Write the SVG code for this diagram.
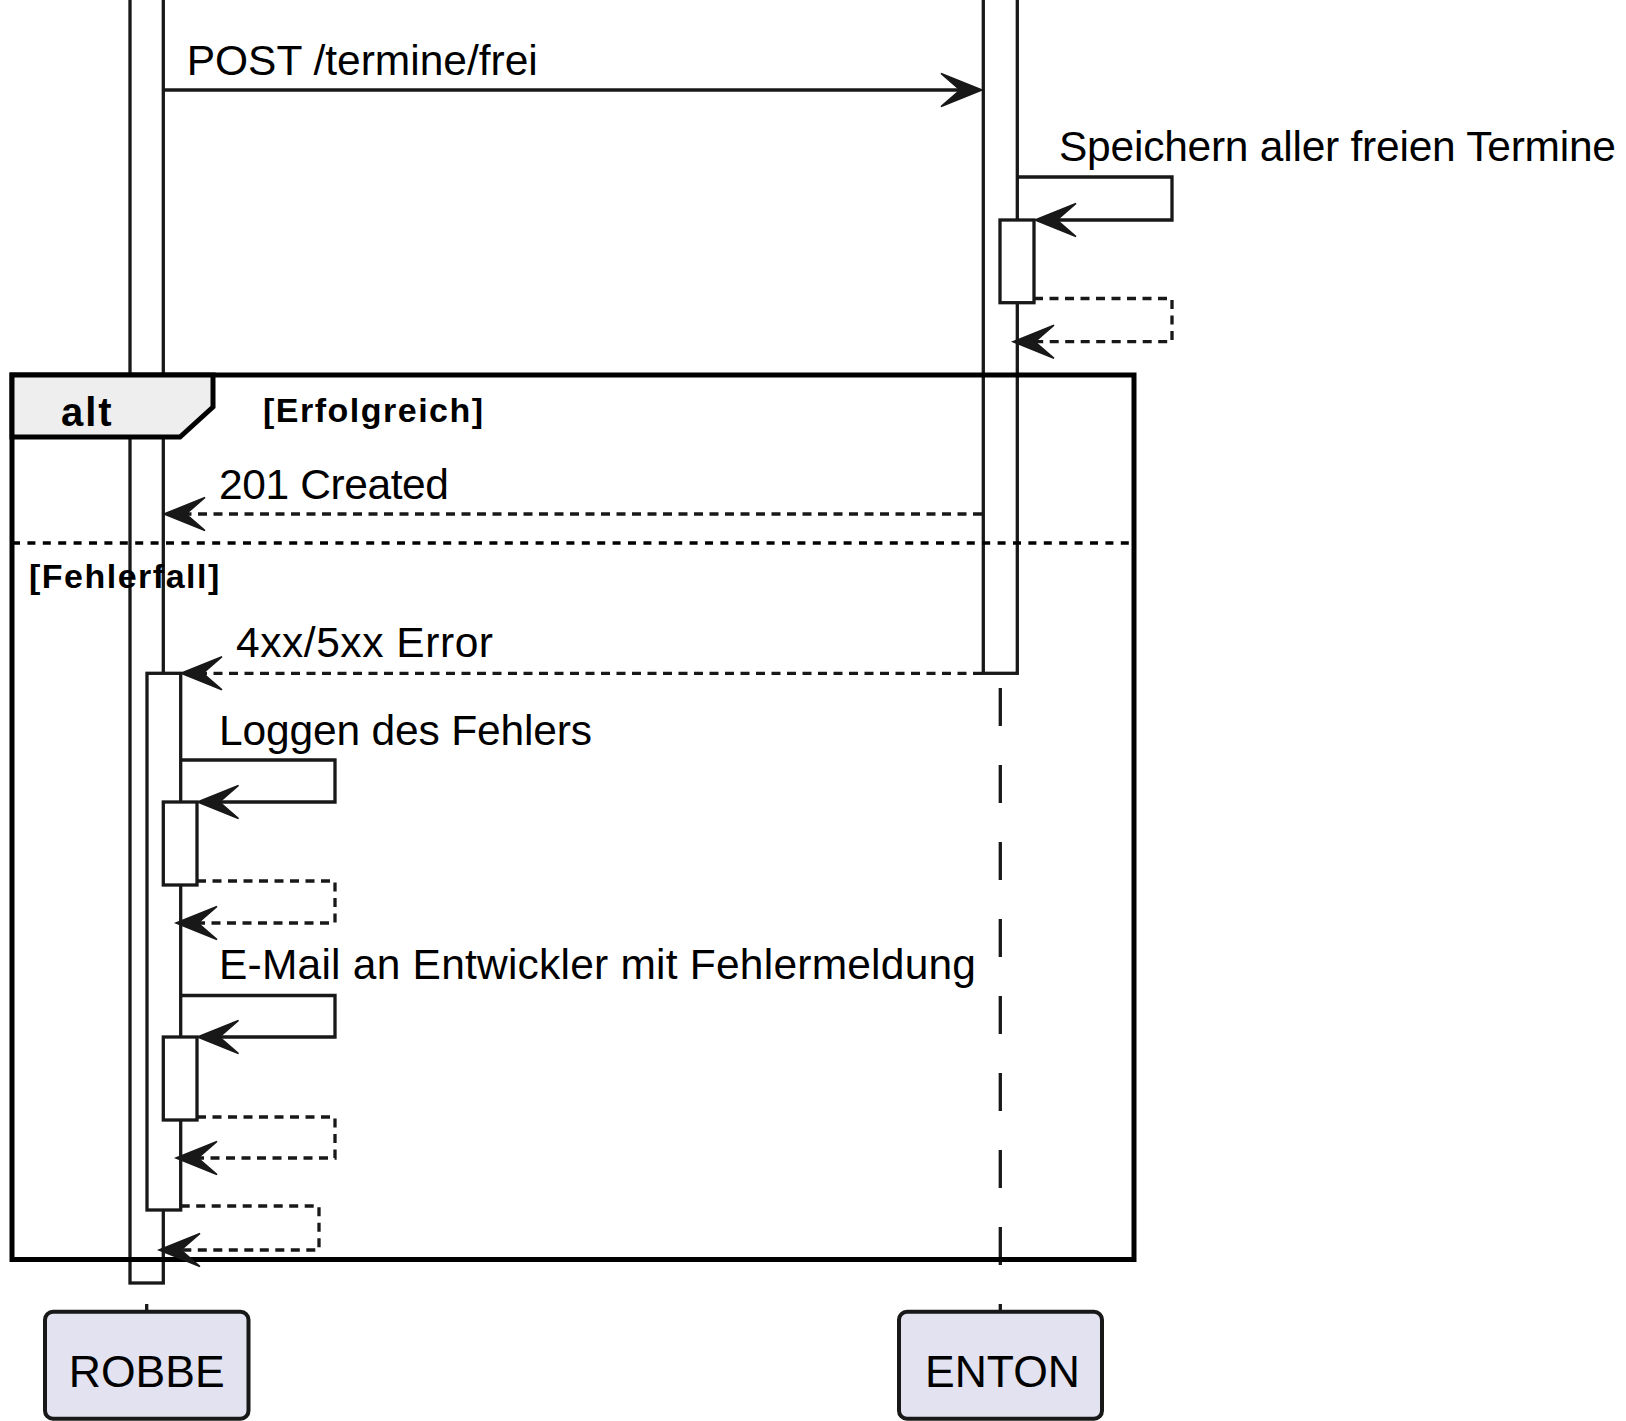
<svg xmlns="http://www.w3.org/2000/svg" xmlns:xlink="http://www.w3.org/1999/xlink" width="1626" height="1421" viewBox="0 0 1626 1421">
  <style>
    .life { fill: none; stroke: #181818; stroke-width: 3.3; stroke-dasharray: 38 39; }
    .act { fill: #ffffff; stroke: #181818; stroke-width: 3.3; }
    .msg { fill: none; stroke: #181818; stroke-width: 3.3; }
    .ret { fill: none; stroke: #181818; stroke-width: 3.3; stroke-dasharray: 9 6.5; }
    .head { fill: #181818; stroke: #181818; stroke-width: 1.5; stroke-linejoin: miter; }
    .frame { fill: none; stroke: #000000; stroke-width: 5; }
    .tab { fill: #EEEEEE; stroke: #000000; stroke-width: 5; }
    .divider { fill: none; stroke: #000000; stroke-width: 3.3; stroke-dasharray: 8 7.4; }
    .label { font-family: "Liberation Sans", Arial, sans-serif; font-size: 42.5px; fill: #000000; }
    .kw { font-family: "Liberation Sans", Arial, sans-serif; font-size: 40px; font-weight: bold; fill: #000000; letter-spacing: 2px; }
    .guard { font-family: "Liberation Sans", Arial, sans-serif; font-size: 34px; font-weight: bold; fill: #000000; letter-spacing: 1.5px; }
    .pbox { fill: #E2E2F0; stroke: #181818; stroke-width: 4; }
    .pname { font-family: "Liberation Sans", Arial, sans-serif; font-size: 44.5px; fill: #000000; text-anchor: middle; }
  </style>
  <defs>
    <!-- open-notch arrowheads, tip at the origin -->
    <path id="headL" d="M0,0 L41,-16.5 L22,0 L41,16.5 Z"/>
    <path id="headR" d="M0,0 L-41,-16.5 L-22,0 L-41,16.5 Z"/>
  </defs>

  <!-- lifelines -->
  <g id="lifelines">
    <line class="life" x1="146.7" y1="-5" x2="146.7" y2="1312"/>
    <line class="life" x1="1000.3" y1="-5" x2="1000.3" y2="1312"/>
  </g>

  <!-- activation bars -->
  <g id="activations">
    <rect class="act" x="130" y="-10" width="33.3" height="1293"/>
    <rect class="act" x="147" y="673.3" width="33.7" height="536.7"/>
    <rect class="act" x="163.3" y="802" width="33.7" height="83"/>
    <rect class="act" x="163.3" y="1037" width="33.7" height="83"/>
    <rect class="act" x="983.3" y="-10" width="34" height="683.3"/>
    <rect class="act" x="1000" y="220" width="34" height="82.7"/>
  </g>

  <!-- alt fragment -->
  <g id="alt">
    <rect class="frame" x="12" y="375" width="1122" height="884.5"/>
    <path class="tab" d="M12,375 H213 V407 L180,437 H12 Z"/>
    <text class="kw" x="61" y="426">alt</text>
    <text class="guard" x="263" y="422">[Erfolgreich]</text>
    <line class="divider" x1="12" y1="543" x2="1134" y2="543"/>
    <text class="guard" x="29" y="588">[Fehlerfall]</text>
  </g>

  <!-- messages -->
  <g id="connectors">
    <line class="msg" x1="163.3" y1="90" x2="965" y2="90"/>
    <use xlink:href="#headR" href="#headR" x="982" y="90" class="head"/>

    <path class="msg" d="M1017.3,177 H1172 V220 H1052"/>
    <use xlink:href="#headL" href="#headL" x="1035" y="220" class="head"/>
    <path class="ret" d="M1034,298.5 H1172 V341.7 H1030"/>
    <use xlink:href="#headL" href="#headL" x="1013" y="341.7" class="head"/>

    <line class="ret" x1="982" y1="514" x2="180" y2="514"/>
    <use xlink:href="#headL" href="#headL" x="164" y="514" class="head"/>

    <line class="ret" x1="982" y1="673.3" x2="198" y2="673.3"/>
    <use xlink:href="#headL" href="#headL" x="181" y="673.3" class="head"/>

    <path class="msg" d="M180.7,760 H335 V802 H214"/>
    <use xlink:href="#headL" href="#headL" x="197.5" y="802" class="head"/>
    <path class="ret" d="M197,881 H335 V923 H192"/>
    <use xlink:href="#headL" href="#headL" x="176" y="923" class="head"/>

    <path class="msg" d="M180.7,995.5 H335 V1037 H214"/>
    <use xlink:href="#headL" href="#headL" x="197.5" y="1037" class="head"/>
    <path class="ret" d="M197,1117 H335 V1158 H192"/>
    <use xlink:href="#headL" href="#headL" x="176" y="1158" class="head"/>

    <path class="ret" d="M180.7,1206 H319 V1250 H175"/>
    <use xlink:href="#headL" href="#headL" x="159" y="1250" class="head"/>
  </g>

  <!-- message labels -->
  <g id="labels">
    <text class="label" x="186.7" y="75">POST /termine/frei</text>
    <text class="label" x="1059" y="160.7" textLength="557" lengthAdjust="spacing">Speichern aller freien Termine</text>
    <text class="label" x="219" y="499" textLength="230" lengthAdjust="spacing">201 Created</text>
    <text class="label" x="236" y="657" textLength="257" lengthAdjust="spacing">4xx/5xx Error</text>
    <text class="label" x="219" y="745" textLength="373" lengthAdjust="spacing">Loggen des Fehlers</text>
    <text class="label" x="219" y="978.5" textLength="757" lengthAdjust="spacing">E-Mail an Entwickler mit Fehlermeldung</text>
  </g>

  <!-- participants -->
  <g id="ROBBE">
    <rect class="pbox" x="45" y="1311.7" width="203.5" height="107" rx="8" ry="8"/>
    <text class="pname" x="146.7" y="1387">ROBBE</text>
  </g>
  <g id="ENTON">
    <rect class="pbox" x="899" y="1311.7" width="203" height="107" rx="8" ry="8"/>
    <text class="pname" x="1002.5" y="1387">ENTON</text>
  </g>
</svg>
